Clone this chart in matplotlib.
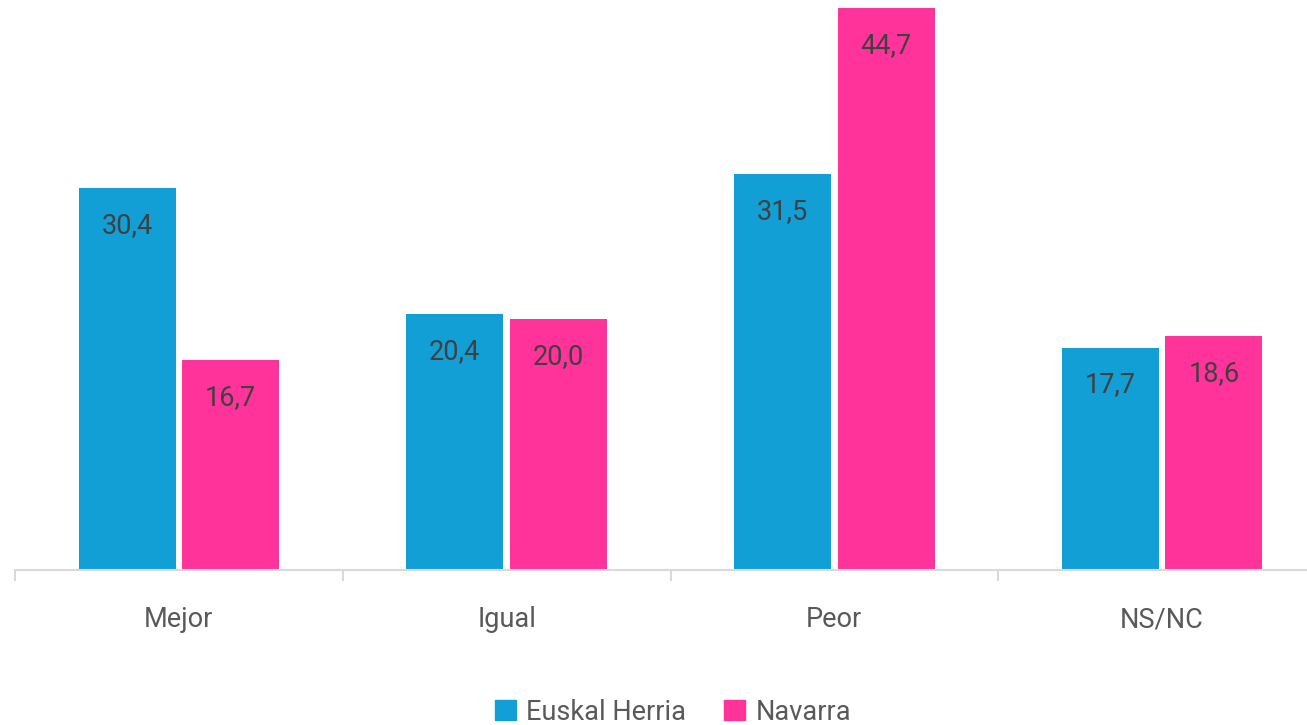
import matplotlib.pyplot as plt
import numpy as np
from matplotlib.patches import Patch

plt.rcParams['font.family'] = ['Roboto', 'DejaVu Sans']

categories = ['Mejor', 'Igual', 'Peor', 'NS/NC']
euskal_herria = [30.4, 20.4, 31.5, 17.7]
navarra = [16.7, 20.0, 44.7, 18.6]
series_names = ['Euskal Herria', 'Navarra']

blue = '#119fd6'
pink = '#ff3399'

W, H = 1307, 725
fig = plt.figure(figsize=(W / 100, H / 100), dpi=100)

# axis spans 15px .. 1326px (right side cropped by the figure edge)
left, right = 15, 1326
base, top = 570, 0
ax = fig.add_axes([left / W, (H - base) / H, (right - left) / W, (base - top) / H])

x = np.arange(len(categories))
bw = 0.296
off = 0.158
b1 = ax.bar(x - off, euskal_herria, bw, color=blue, zorder=2)
b2 = ax.bar(x + off, navarra, bw, color=pink, zorder=2)

ax.set_xlim(-0.5, len(categories) - 0.5)
ax.set_ylim(0, 45.35)

for bars, vals in [(b1, euskal_herria), (b2, navarra)]:
    for b, v in zip(bars, vals):
        ax.annotate(f'{v:.1f}'.replace('.', ','),
                    (b.get_x() + b.get_width() / 2, v),
                    xytext=(0, -27), textcoords='offset points',
                    ha='center', va='center', fontsize=19.5, color='#404040')

for s in ['top', 'right', 'left']:
    ax.spines[s].set_visible(False)
ax.spines['bottom'].set_color('#d9d9d9')
ax.spines['bottom'].set_linewidth(1.5)
ax.set_yticks([])

ax.set_xticks(np.arange(len(categories) + 1) - 0.5, minor=True)
ax.tick_params(axis='x', which='minor', length=8, width=1.5, color='#d9d9d9')
ax.set_xticks(x)
ax.set_xticklabels(categories, fontsize=19.5, color='#595959')
ax.tick_params(axis='x', which='major', length=0, pad=26)

handles = [Patch(color=blue), Patch(color=pink)]
fig.legend(handles, series_names, loc='center', bbox_to_anchor=(0.515, 13 / H),
           ncol=2, frameon=False, fontsize=19.5, labelcolor='#595959',
           handlelength=0.75, handleheight=0.75, handletextpad=0.4,
           columnspacing=1.4)

fig.savefig('out.png', dpi=100)
